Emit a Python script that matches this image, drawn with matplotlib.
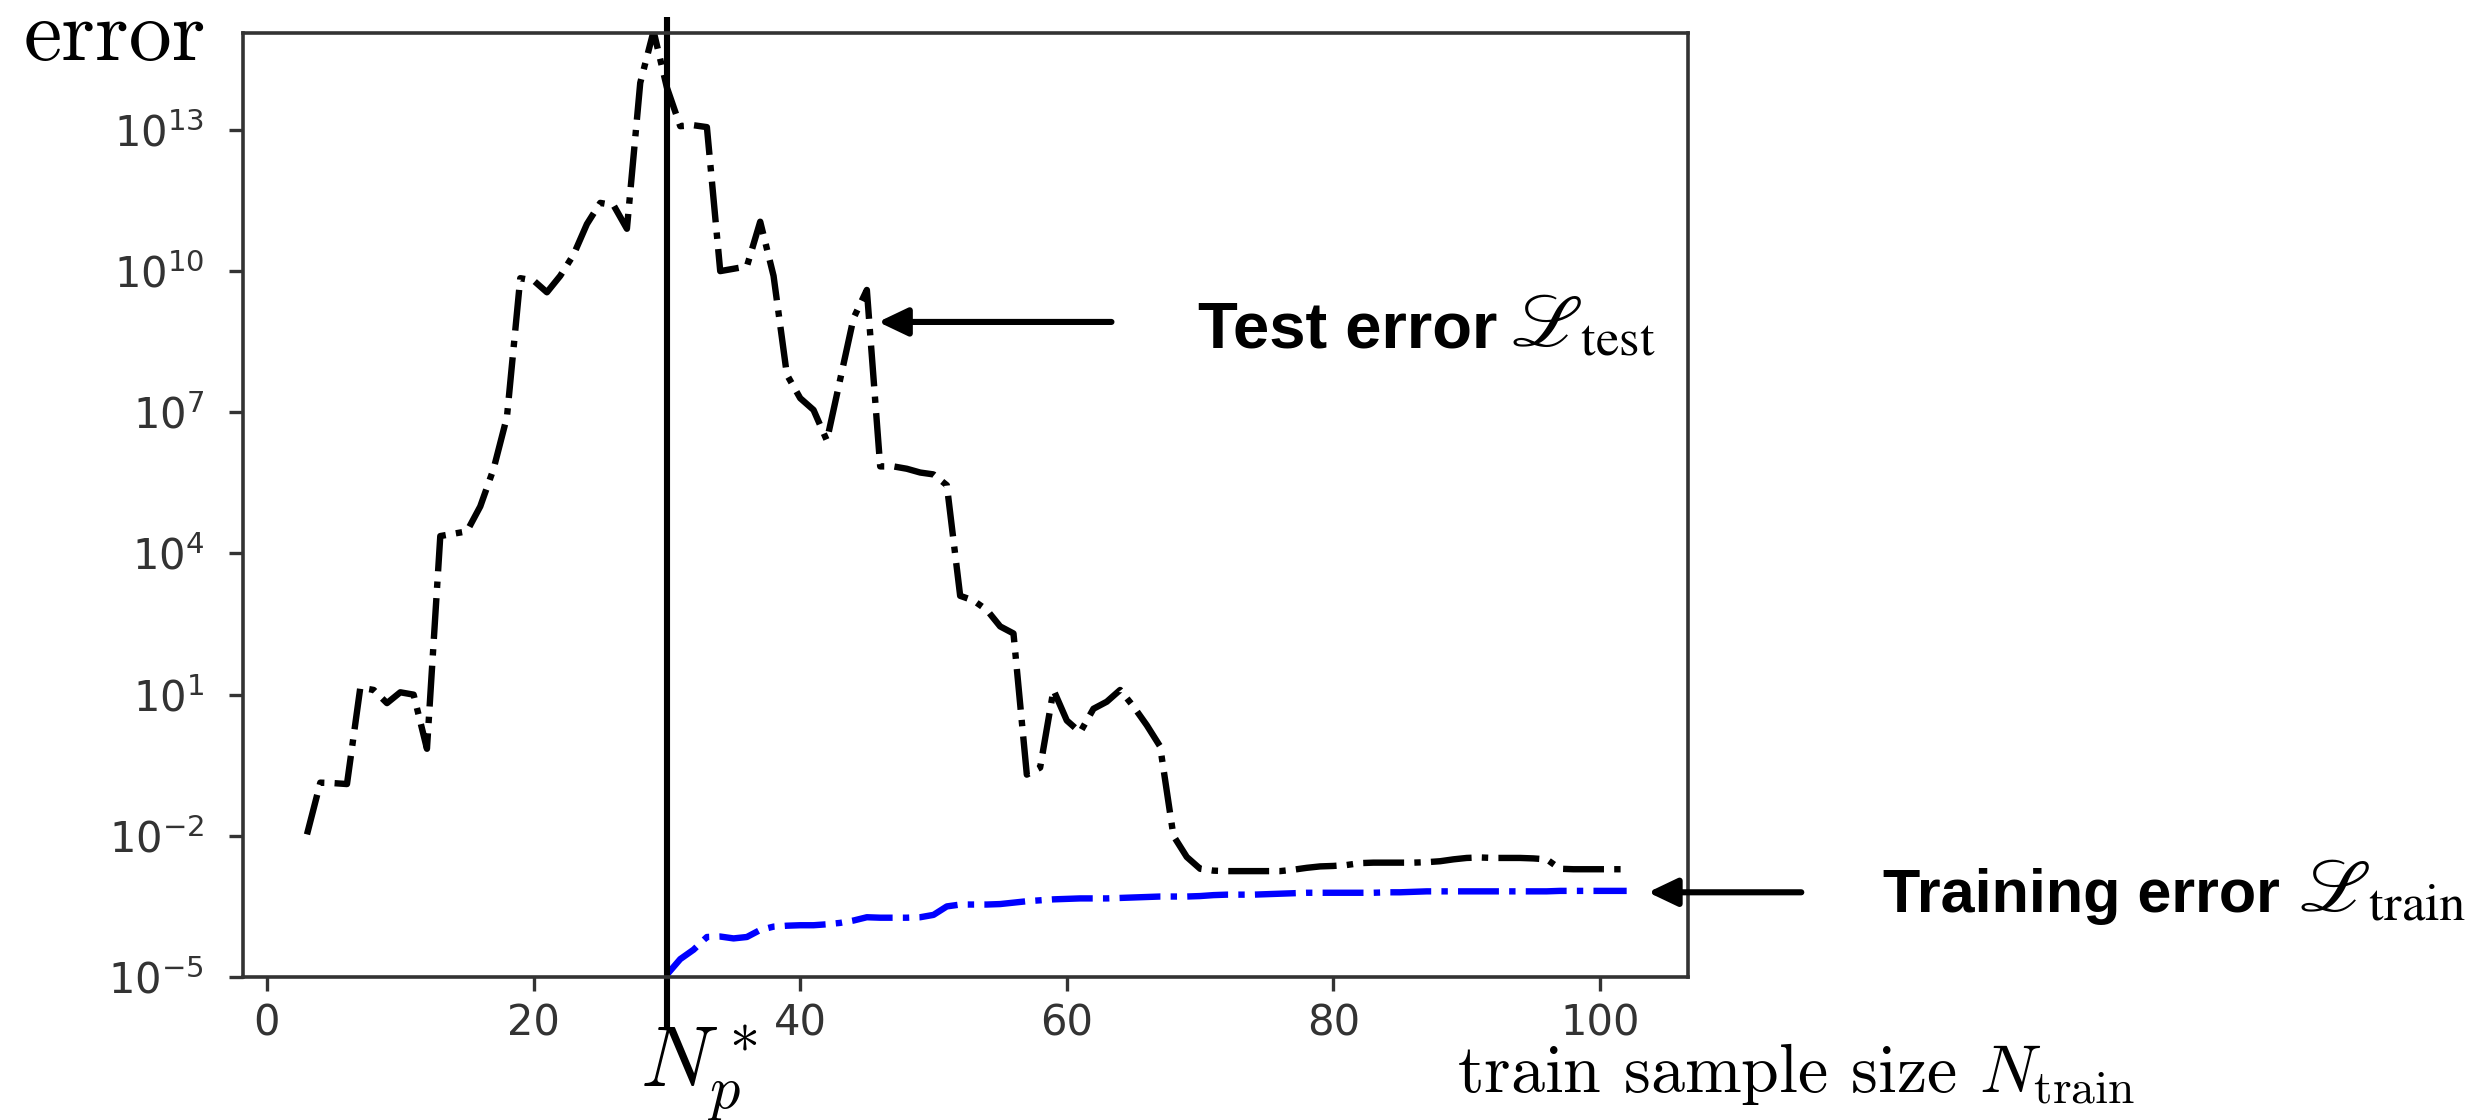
import numpy as np
import matplotlib
matplotlib.use("Agg")
import matplotlib.pyplot as plt
import matplotlib.transforms as mtransforms
from matplotlib.ticker import NullLocator

# training sample sizes and log10 of the errors
n_test = list(range(3, 103))
log_test = [
    -1.97, -0.87, -0.88, -0.90, 1.15, 1.10, 0.82, 1.05, 1.00, -0.15,
    4.37, 4.42, 4.47, 5.00, 5.80, 6.90, 9.85, 9.80, 9.55, 9.90,
    10.35, 11.00, 11.45, 11.40, 10.90, 14.00, 15.10, 13.90, 13.08, 13.10,
    13.06, 10.00, 10.05, 10.10, 11.05, 9.90, 7.80, 7.30, 7.05, 6.40,
    7.70, 9.00, 9.60, 5.85, 5.85, 5.80, 5.72, 5.68, 5.45, 3.10,
    3.00, 2.80, 2.45, 2.30, -0.70, -0.55, 1.10, 0.45, 0.20, 0.70,
    0.85, 1.10, 0.75, 0.35, -0.10, -2.00, -2.45, -2.70, -2.74, -2.75,
    -2.75, -2.75, -2.75, -2.75, -2.72, -2.68, -2.65, -2.64, -2.62, -2.58,
    -2.57, -2.57, -2.57, -2.57, -2.56, -2.54, -2.50, -2.47, -2.46, -2.47,
    -2.47, -2.47, -2.48, -2.50, -2.70, -2.71, -2.71, -2.71, -2.71, -2.71,
]

n_train = list(range(30, 103))
log_train = [
    -4.95, -4.62, -4.42, -4.15, -4.14, -4.18, -4.15, -4.00, -3.93, -3.91,
    -3.90, -3.90, -3.88, -3.85, -3.80, -3.73, -3.74, -3.74, -3.74, -3.73,
    -3.68, -3.50, -3.46, -3.46, -3.46, -3.45, -3.42, -3.39, -3.37, -3.35,
    -3.34, -3.33, -3.33, -3.33, -3.32, -3.31, -3.30, -3.29, -3.29, -3.29,
    -3.28, -3.26, -3.25, -3.25, -3.25, -3.24, -3.23, -3.22, -3.21, -3.21,
    -3.21, -3.21, -3.21, -3.21, -3.20, -3.20, -3.19, -3.18, -3.18, -3.18,
    -3.18, -3.18, -3.18, -3.18, -3.18, -3.18, -3.18, -3.17, -3.17, -3.17,
    -3.17, -3.17, -3.17,
]

n_peak = 30
x_ticks = [0, 20, 40, 60, 80, 100]
y_ticks = [1e-5, 1e-2, 1e1, 1e4, 1e7, 1e10, 1e13]

W, H = 2488, 1120


def fx(px):
    return px / W


def fy(py):
    return 1 - py / H


fig = plt.figure(figsize=(W / 200, H / 200), dpi=200)
ax = fig.add_axes([fx(243), fy(977), (1688 - 243) / W, (977 - 33) / H])

ax.plot(n_test, 10 ** np.array(log_test), color="black", ls="-.", lw=2.3)
ax.plot(n_train, 10 ** np.array(log_train), color="blue", ls="-.", lw=2.3)

ax.set_yscale("log")
ax.set_xlim(-1.8, 106.6)
ax.set_ylim(1e-5, 10 ** 15.06)
ax.set_xticks(x_ticks)
ax.set_yticks(y_ticks)
ax.yaxis.set_minor_locator(NullLocator())

ax.tick_params(labelsize=15, colors="#333333", length=5, width=1.2)
ax.tick_params(axis="y", pad=9)
ax.tick_params(axis="x", pad=4)
for sp in ax.spines.values():
    sp.set_color("#333333")
    sp.set_linewidth(1.3)

# interpolation threshold marker, runs past the axes on both ends
trans = mtransforms.blended_transform_factory(ax.transData, fig.transFigure)
ax.plot([n_peak, n_peak], [fy(17), fy(1027)], transform=trans, color="black",
        lw=2.2, clip_on=False, solid_capstyle="butt")

arrow = dict(arrowstyle="-|>,head_length=0.42,head_width=0.2", mutation_scale=21,
             lw=2.2, color="black", shrinkA=0, shrinkB=0)
ax.annotate("", xy=(45.85, 10 ** 8.92), xytext=(63.35, 10 ** 8.92),
            arrowprops=arrow, annotation_clip=False)
ax.annotate("", xy=(103.6, 10 ** -3.2), xytext=(115.1, 10 ** -3.2),
            arrowprops=arrow, annotation_clip=False)

bold = dict(fontfamily="Liberation Sans", fontweight="bold", va="baseline")
fig.text(fx(1198), fy(347), "Test error", fontsize=23.5, **bold)
fig.text(fx(1510), fy(347), r"$ℒ_{\mathrm{test}}$", math_fontfamily="stix",
         fontsize=27, va="baseline")
fig.text(fx(1883), fy(912), "Training error", fontsize=22, **bold)
fig.text(fx(2298), fy(912), r"$ℒ_{\mathrm{train}}$", math_fontfamily="stix",
         fontsize=27, va="baseline")

fig.text(fx(24), fy(60), "error", fontfamily="cmr10", fontsize=31, va="baseline")
fig.text(fx(1457), fy(1092), r"train sample size $N_{\mathrm{train}}$",
         fontfamily="cmr10", math_fontfamily="cm", fontsize=24.5, va="baseline")
fig.text(fx(640), fy(1087), r"$N_p^*$", math_fontfamily="cm", fontsize=31,
         va="baseline")

fig.savefig("out.png", dpi=200)
